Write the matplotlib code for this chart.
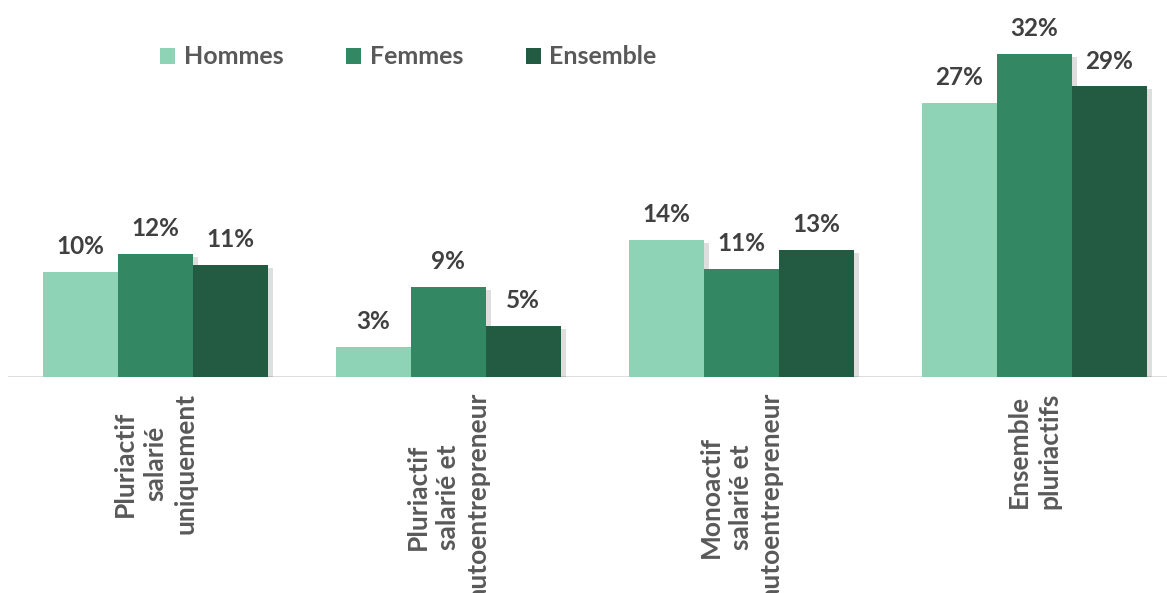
import numpy as np
import matplotlib.pyplot as plt
import matplotlib.patheffects as pe

categories = ['Pluriactif\nsalarié\nuniquement',
              'Pluriactif\nsalarié et\nautoentrepreneur',
              'Monoactif\nsalarié et\nautoentrepreneur',
              'Ensemble\npluriactifs']
series = ['Hommes', 'Femmes', 'Ensemble']
hommes = [10.4, 3.0, 13.6, 27.2]
femmes = [12.2, 8.9, 10.7, 32.0]
ensemble = [11.1, 5.05, 12.6, 28.8]
colors = ['#8fd3b6', '#338763', '#225a42']

plt.rcParams['font.family'] = ['Lato', 'DejaVu Sans']
plt.rcParams['font.weight'] = 'bold'

W, H = 1167, 593
fig = plt.figure(figsize=(W / 100, H / 100), dpi=100)
# baseline at 377 px from top, category pitch 293 px, first center at 155 px
ax = fig.add_axes([0, (H - 377) / H, 1, 377 / H])
ax.set_xlim(-155 / 293, (W - 155) / 293)
ax.set_ylim(0, 377 / 10.09)
ax.axis('off')

x = np.arange(len(categories))
bw = 75 / 293
shadow = [pe.SimplePatchShadow(offset=(4, -2), shadow_rgbFace='#000000', alpha=0.13), pe.Normal()]
for i, (vals, col, name) in enumerate(zip([hommes, femmes, ensemble], colors, series)):
    pos = x + (i - 1) * bw
    bars = ax.bar(pos, vals, width=bw, color=col, label=name, zorder=2)
    for b in bars:
        b.set_path_effects(shadow)
    for p, v in zip(pos, vals):
        ax.annotate('%.0f%%' % v, (p, v), xytext=(0, 10), textcoords='offset points',
                    ha='center', va='bottom', fontsize=17.5, fontweight='bold', color='#404040')

ax.axhline(0, xmin=9 / W, xmax=1, color='#d9d9d9', lw=2, zorder=1)

# labels run off the bottom edge, as in the original export
for xi, lab in zip(x, categories):
    ax.text(xi, -16 / 10.09, lab, rotation=90, ha='center', va='top', multialignment='center',
            fontsize=19, fontweight='bold', color='#595959', linespacing=1.32)

leg = fig.legend(loc='center left', bbox_to_anchor=(160 / W, 1 - 57 / H), ncol=3, frameon=False,
                 fontsize=18, handlelength=0.6, handleheight=0.6, handletextpad=0.35,
                 columnspacing=2.5, borderpad=0, borderaxespad=0)
for h in leg.legend_handles:
    h.set_path_effects([])
for t in leg.get_texts():
    t.set_color('#595959')
    t.set_fontweight('bold')

fig.savefig('out.png', dpi=100)
